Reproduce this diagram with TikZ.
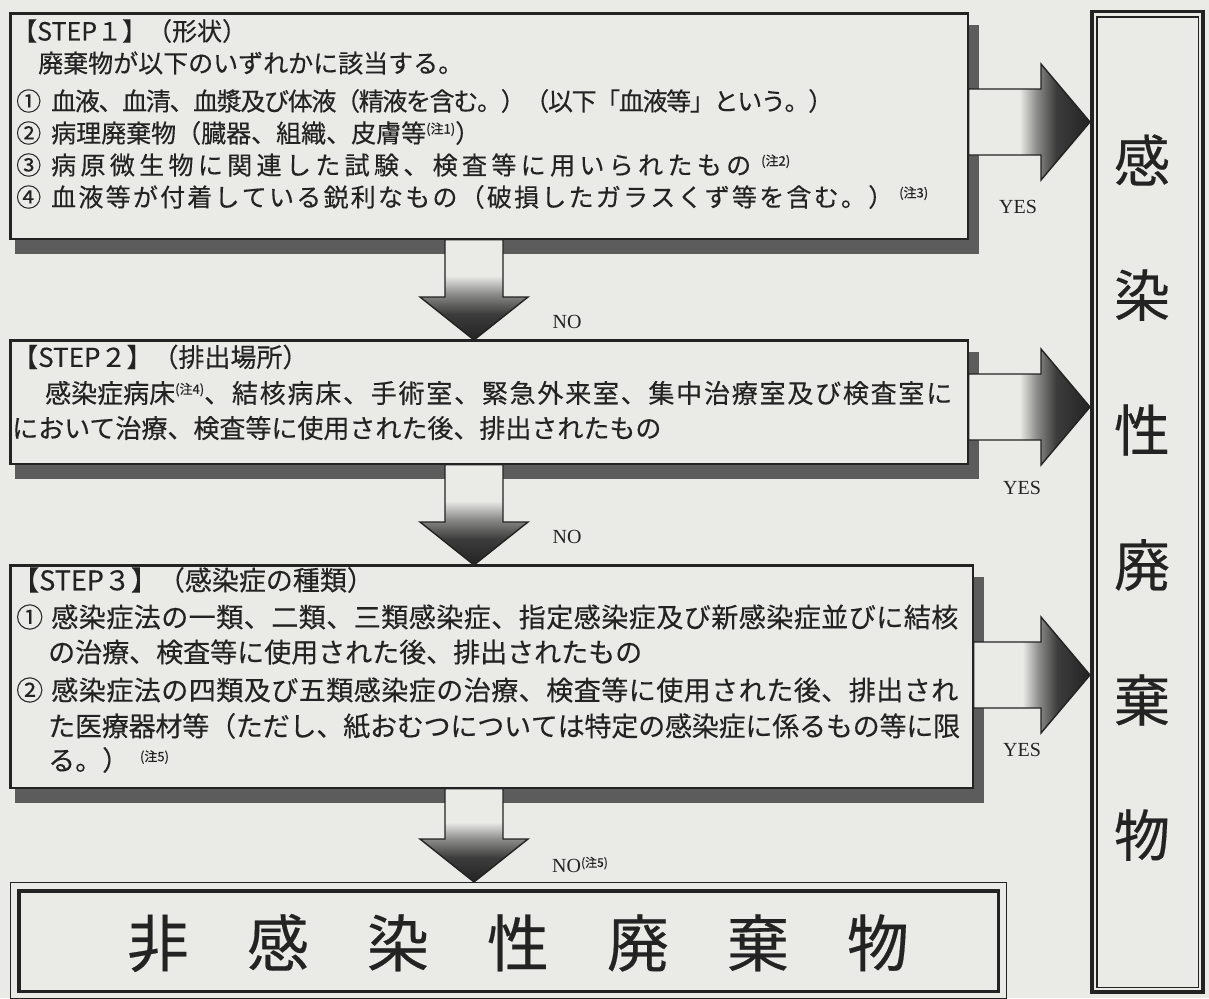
\documentclass[tikz,border=0pt]{standalone}
\usepackage{fontspec}
\setmainfont{Liberation Serif}
\newfontfamily\jp[FakeBold=0.3]{Noto Sans CJK JP}
\usetikzlibrary{calc}
\definecolor{paper}{RGB}{234,234,231}
\definecolor{ink}{RGB}{35,35,35}
\definecolor{shadowc}{RGB}{92,92,92}
\definecolor{amid}{RGB}{140,140,138}
\definecolor{adark}{RGB}{60,60,60}
\pgfdeclareverticalshading{dnshade}{100bp}{color(0bp)=(ink); color(25bp)=(ink); color(38bp)=(adark); color(48bp)=(amid); color(57bp)=(paper); color(100bp)=(paper)}
\pgfdeclarehorizontalshading{rtshade}{100bp}{color(0bp)=(paper); color(46bp)=(paper); color(53bp)=(amid); color(61bp)=(adark); color(75bp)=(ink); color(100bp)=(ink)}
\newcommand\chu[1]{\raisebox{9pt}{\jp\fontsize{13}{13}\selectfont(注#1)}}
\ExplSyntaxOn
\NewDocumentCommand\spread{m m}{\makebox[#1][s]{\tl_map_inline:nn {#2}{##1\hskip 0pt plus 1fil minus 3pt\relax}\unskip}}
\ExplSyntaxOff
\newcommand\dnarrow[2]{%
  \shadedraw[arrowline, shading=dnshade] let \p1=(#1), \p2=(#2) in
   (\x1-29pt,\y1) -- (\x1+29pt,\y1) -- (\x1+29pt,\y2+43pt) -- (\x1+54pt,\y2+43pt)
   -- (\x2,\y2) -- (\x1-54pt,\y2+43pt) -- (\x1-29pt,\y2+43pt) -- cycle;}
\newcommand\rtarrow[2]{%
  \shadedraw[arrowline, shading=rtshade] let \p1=(#1), \p2=(#2) in
   (\x1,\y1+33pt) -- (\x2-49pt,\y1+33pt) -- (\x2-49pt,\y1+58pt) -- (\x2,\y2)
   -- (\x2-49pt,\y1-58pt) -- (\x2-49pt,\y1-33pt) -- (\x1,\y1-33pt) -- cycle;}
\tikzset{
  stepbox/.style={draw=ink, line width=1.6pt, fill=paper, inner sep=0pt, anchor=north west},
  shadowband/.style={fill=shadowc},
  arrowline/.style={draw=ink, line width=1.4pt, line join=miter},
  txtA/.style={anchor=west, inner sep=0pt, text=ink, font=\jp\fontsize{25}{25}\selectfont},
  txtB/.style={anchor=west, inner sep=0pt, text=ink, font=\jp\fontsize{26}{26}\selectfont},
  txtC/.style={anchor=west, inner sep=0pt, text=ink, font=\jp\fontsize{27}{27}\selectfont},
  bigv/.style={inner sep=0pt, text=ink, font=\jp\fontsize{56}{56}\selectfont},
  bigh/.style={inner sep=0pt, text=ink, font=\jp\fontsize{62}{62}\selectfont},
  yesno/.style={inner sep=0pt, text=ink, font=\fontsize{20}{20}\selectfont},
}
\begin{document}
\begin{tikzpicture}[x=1pt,y=-1pt]
\useasboundingbox (0,0) rectangle (1209,998);
\fill[paper] (0,0) rectangle (1209,998);

% step boxes
\node[stepbox, minimum width=957pt, minimum height=225pt] (s1) at (10,13) {};
\node[stepbox, minimum width=957pt, minimum height=123pt] (s2) at (10,340) {};
\node[stepbox, minimum width=962pt, minimum height=222pt] (s3) at (10,565) {};

% shadows
\foreach \b in {s1,s2,s3}{
  \fill[shadowband] ($(\b.north east)+(0,12)$) rectangle ($(\b.south east)+(10,14)$);
  \fill[shadowband] ($(\b.south west)+(5,0)$) rectangle ($(\b.south east)+(10,14)$);
  \draw[ink, line width=1.6pt] (\b.north west) rectangle (\b.south east);
}

% right box
\node[draw=ink, line width=3.5pt, fill=paper, inner sep=0pt, anchor=north west,
      minimum width=111pt, minimum height=980pt] (k) at (1090,10) {};
\draw[ink, line width=1.3pt] ($(k.north west)+(7,7)$) rectangle ($(k.south east)+(-6,-6)$);

% bottom box
\node[draw=ink, line width=1.3pt, fill=paper, inner sep=0pt, anchor=north west,
      minimum width=996pt, minimum height=116pt] (b) at (10,882) {};
\draw[ink, line width=3.5pt] ($(b.north west)+(9,9)$) rectangle ($(b.south east)+(-9,-8)$);

% coordinates for arrows
\coordinate (ax) at (474,0);
\coordinate (y1) at (0,122);
\coordinate (y2) at (0,407);
\coordinate (y3) at (0,675);

\dnarrow{s1.south -| ax}{s2.north -| ax}
\dnarrow{s2.south -| ax}{s3.north -| ax}
\dnarrow{s3.south -| ax}{b.north -| ax}
\rtarrow{s1.east |- y1}{k.west |- y1}
\rtarrow{s2.east |- y2}{k.west |- y2}
\rtarrow{s3.east |- y3}{k.west |- y3}

% STEP 1 text
\node[txtA] (t11) at (12,31) {【STEP１】（形状）};
\node[txtA] (t12) at (38,63) {廃棄物が以下のいずれかに該当する。};
\node[txtA] (t13) at (16,101) {①\hspace{0.4em}\spread{782pt}{血液、血清、血漿及び体液（精液を含む。）（以下「血液等」という。）}};
\node[txtA] (t14) at (16,133) {②\hspace{0.4em}病理廃棄物（臓器、組織、皮膚等\chu{1}）};
\node[txtA] (t15) at (16,165) {③\hspace{0.4em}\spread{700pt}{病原微生物に関連した試験、検査等に用いられたもの}\hspace{10pt}\chu{2}};
\node[txtA] (t16) at (16,197) {④\hspace{0.4em}\spread{842pt}{血液等が付着している鋭利なもの（破損したガラスくず等を含む。）}\hspace{6pt}\chu{3}};

% STEP 2 text
\node[txtB] (t21) at (12,357) {【STEP２】（排出場所）};
\node[txtB] (t22) at (45,393) {感染症病床\chu{4}\spread{748pt}{、結核病床、手術室、緊急外来室、集中治療室及び検査室に}};
\node[txtB] (t23) at (12,428) {において治療、検査等に使用された後、排出されたもの};

% STEP 3 text
\node[txtC] (t31) at (12,580) {【STEP３】（感染症の種類）};
\node[txtC] (t32) at (16,617) {①\hspace{0.3em}\spread{907pt}{感染症法の一類、二類、三類感染症、指定感染症及び新感染症並びに結核}};
\node[txtC] (t33) at (48,652) {の治療、検査等に使用された後、排出されたもの};
\node[txtC] (t34) at (16,690) {②\hspace{0.3em}\spread{907pt}{感染症法の四類及び五類感染症の治療、検査等に使用された後、排出され}};
\node[txtC] (t35) at (48,726) {\spread{912pt}{た医療器材等（ただし、紙おむつについては特定の感染症に係るもの等に限}};
\node[txtC] (t36) at (48,760) {る。）\hspace{0.4em}\chu{5}};

% YES / NO labels
\node[yesno] (yes1) at (1018,207) {YES};
\node[yesno] (yes2) at (1022,488) {YES};
\node[yesno] (yes3) at (1022,750) {YES};
\node[yesno] (no1) at (567,322) {NO};
\node[yesno] (no2) at (567,537) {NO};
\node[yesno, anchor=west] (no3) at (552,865) {NO\raisebox{6pt}{\jp\fontsize{12}{12}\selectfont(注5)}};

% right box text
\node[bigv] (k1) at (1142,160) {感};
\node[bigv] (k2) at (1142,295) {染};
\node[bigv] (k3) at (1142,430) {性};
\node[bigv] (k4) at (1142,565) {廃};
\node[bigv] (k5) at (1142,700) {棄};
\node[bigv] (k6) at (1142,835) {物};

% bottom text
\node[bigh] (bt) at (518,943) {非\hspace{58pt}感\hspace{58pt}染\hspace{58pt}性\hspace{58pt}廃\hspace{58pt}棄\hspace{58pt}物};
\end{tikzpicture}
\end{document}
